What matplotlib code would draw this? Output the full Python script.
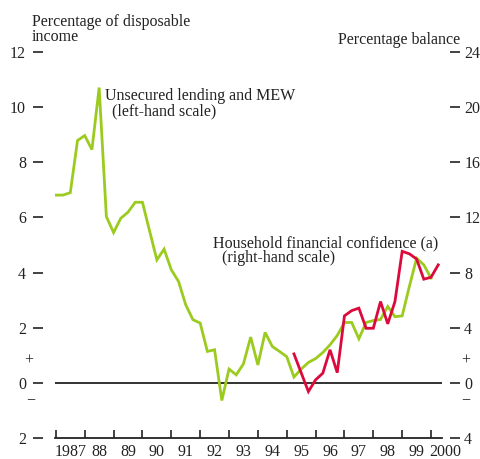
import matplotlib
matplotlib.use("Agg")
import matplotlib.pyplot as plt

# ---- data ----
green_dates = [1987 + 0.25 * i for i in range(53)]
green_values = [6.81, 6.81, 6.9, 8.79, 8.97, 8.46, 10.71, 6.03,
                5.45, 5.97, 6.19, 6.55, 6.55, 5.5, 4.46, 4.85,
                4.10, 3.68, 2.83, 2.29, 2.17, 1.14, 1.2, -0.64,
                0.5, 0.29, 0.69, 1.66, 0.65, 1.83, 1.32, 1.14,
                0.95, 0.21, 0.5, 0.74, 0.88, 1.1, 1.38, 1.72,
                2.19, 2.19, 1.6, 2.19, 2.26, 2.3, 2.77, 2.4,
                2.43, 3.5, 4.52, 4.28, 3.8]

red_dates = [1995.25, 1995.75, 1996.0, 1996.25, 1996.5, 1996.75,
             1997.0, 1997.25, 1997.5, 1997.75, 1998.0, 1998.25,
             1998.5, 1998.75, 1999.0, 1999.25, 1999.5, 1999.75,
             2000.0, 2000.25]
red_values = [2.1, -0.63, 0.22, 0.7, 2.4, 0.74,
              4.86, 5.24, 5.42, 3.96, 3.96, 5.9,
              4.28, 5.9, 9.54, 9.36, 8.98, 7.52,
              7.66, 8.56]

year_ticks = list(range(1987, 2001))
year_labels = ["1987", "88", "89", "90", "91", "92", "93", "94", "95",
               "96", "97", "98", "99", "2000"]
left_ticks = [-2, 0, 2, 4, 6, 8, 10, 12]
left_labels = ["2", "0", "2", "4", "6", "8", "10", "12"]
right_ticks = [-4, 0, 4, 8, 12, 16, 20, 24]
right_labels = ["4", "0", "4", "8", "12", "16", "20", "24"]

GREEN = "#9BCB1F"
RED = "#DC0A3C"
INK = "#222222"
FS = 11.5

plt.rcParams["font.family"] = ["Liberation Serif", "DejaVu Serif"]

W, H = 480, 459
fig = plt.figure(figsize=(W / 100, H / 100), dpi=100)
ax = fig.add_axes([55 / W, 1 - 438 / H, (442 - 55) / W, (438 - 52) / H])

ax.plot(green_dates, green_values, color=GREEN, lw=2.0, solid_joinstyle="miter", zorder=3)
ax.axhline(0, color=INK, lw=1.3, zorder=2)
ax.set_xlim(1986.97, 2000.38)
ax.set_ylim(-2, 12)

for s in ["top", "right"]:
    ax.spines[s].set_visible(False)
ax.spines["left"].set_visible(False)
ax.spines["left"].set_position(("outward", 8.6))
ax.spines["bottom"].set_color(INK)
ax.spines["bottom"].set_linewidth(1.3)

ax.set_yticks(left_ticks)
ax.set_yticklabels(left_labels, fontsize=FS, color=INK)
ax.tick_params(axis="y", direction="out", length=7.2, width=1.2, pad=5, color=INK)
ax.set_xticks(year_ticks)
ax.set_xticklabels([])
ax.tick_params(axis="x", direction="in", length=5.8, width=1.2, color=INK)

ax2 = ax.twinx()
ax2.plot(red_dates, red_values, color=RED, lw=2.0, solid_joinstyle="miter", zorder=3)
ax2.set_ylim(-4, 24)
for s in ax2.spines.values():
    s.set_visible(False)
ax2.spines["right"].set_position(("outward", 5.8))
ax2.set_yticks(right_ticks)
ax2.set_yticklabels(right_labels, fontsize=FS, color=INK)
ax2.tick_params(axis="y", direction="out", length=7.2, width=1.2, pad=3, color=INK)
ax2.set_xlim(1986.97, 2000.38)

# year labels sit at mid-year, just under the axis line
ybase = ax.transAxes.inverted().transform((0, fig.bbox.height - 456.5))[1]
for yr, lab in zip(year_ticks, year_labels):
    ax.text(yr + 0.5, ybase, lab, transform=ax.get_xaxis_transform(),
            ha="center", va="baseline", fontsize=FS, color=INK, clip_on=False)


def ftext(x, y, s, **kw):
    fig.text(x / W, 1 - y / H, s, fontsize=FS, color=INK, va="baseline", **kw)


ftext(32, 26.5, "Percentage of disposable")
ftext(32, 41, "income")
ftext(338, 44, "Percentage balance")
ftext(105, 100.5, "Unsecured lending and MEW")
ftext(112, 115.5, "(left-hand scale)")
ftext(213, 247.5, "Household financial confidence (a)")
ftext(222, 262.5, "(right-hand scale)")
ftext(29, 365, "+", ha="center")
ftext(31, 405, "\u2212", ha="center")
ftext(466, 365, "+", ha="center")
ftext(466, 405, "\u2212", ha="center")

fig.savefig("out.png", dpi=100)
